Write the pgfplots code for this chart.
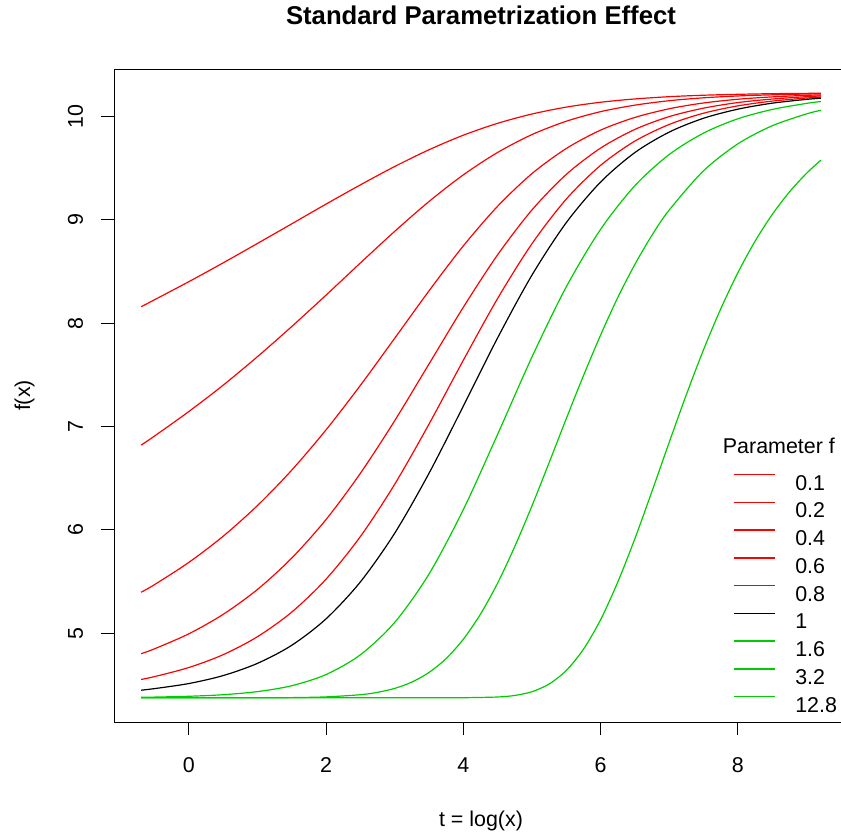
\documentclass[border=0pt]{standalone}
\usepackage{fontspec}
\setmainfont{Liberation Sans}
\usepackage{pgfplots}
\pgfplotsset{compat=1.18}
\usetikzlibrary{calc}
\definecolor{rred}{HTML}{FF0000}
\definecolor{rgreen}{HTML}{00CD00}
\begin{document}
\begin{tikzpicture}
\begin{axis}[
  scale only axis, width=734bp, height=653bp,
  xmin=-1.089, xmax=9.606, ymin=4.140, ymax=10.460,
  axis line style={line width=0.9bp},
  tick align=outside, major tick length=13bp,
  tick style={line width=0.9bp, black},
  xtick={0,2,4,6,8}, ytick={5,6,7,8,9,10},
  xtick pos=bottom, ytick pos=left,
  /pgf/number format/assume math mode=true,
  ticklabel style={font=\fontsize{21.5}{25}\selectfont},
  xticklabel style={anchor=base, yshift=-37bp},
  yticklabel style={anchor=base, rotate=90, yshift=18bp},
  xlabel={t = log(x)}, ylabel={f(x)},
  label style={font=\fontsize{21.5}{25}\selectfont},
  xlabel style={at={(0.5,-0.1593)}, anchor=base},
  ylabel style={at={(-0.1144,0.5)}, anchor=base, rotate=0},
  title={Standard Parametrization Effect},
  title style={font=\bfseries\fontsize{25.8}{30}\selectfont, at={(0.5,1.0597)}, anchor=base},
  every axis plot/.append style={line width=1.2bp, smooth},
  legend image code/.code={\draw[#1, line width=1.5bp] (0bp,7.7bp) -- (41bp,7.7bp);},
  legend cell align=left,
  legend style={draw=none, fill=none, inner sep=0pt, outer sep=0pt,
    at={(axis cs:7.927,6.541)}, anchor=north west,
    font=\fontsize{21.5}{25}\selectfont, row sep=11.6bp, column sep=20bp,
    nodes={inner sep=0pt, text height=15.4bp, text depth=0pt}},
]
\addplot[rred] coordinates {(-0.693,8.159) (-0.5,8.226) (0,8.401) (0.5,8.583) (1,8.771) (1.5,8.961) (2,9.152) (2.5,9.338) (3,9.516) (3.5,9.678) (4,9.819) (4.5,9.934) (5,10.024) (5.5,10.091) (6,10.138) (6.5,10.170) (7,10.192) (7.5,10.206) (8,10.215) (8.5,10.221) (9,10.224) (9.21,10.226)};
\addlegendentry{0.1}
\addplot[rred] coordinates {(-0.693,6.820) (-0.5,6.907) (0,7.144) (0.5,7.399) (1,7.675) (1.5,7.967) (2,8.271) (2.5,8.582) (3,8.888) (3.5,9.177) (4,9.435) (4.5,9.652) (5,9.825) (5.5,9.954) (6,10.047) (6.5,10.110) (7,10.153) (7.5,10.181) (8,10.199) (8.5,10.210) (9,10.218) (9.21,10.220)};
\addlegendentry{0.2}
\addplot[rred] coordinates {(-0.693,5.396) (-0.5,5.469) (0,5.684) (0.5,5.937) (1,6.234) (1.5,6.577) (2,6.967) (2.5,7.397) (3,7.853) (3.5,8.312) (4,8.747) (4.5,9.131) (5,9.447) (5.5,9.690) (6,9.868) (6.5,9.991) (7,10.075) (7.5,10.131) (8,10.167) (8.5,10.190) (9,10.205) (9.21,10.209)};
\addlegendentry{0.4}
\addplot[rred] coordinates {(-0.693,4.801) (-0.5,4.848) (0,4.993) (0.5,5.181) (1,5.422) (1.5,5.726) (2,6.099) (2.5,6.546) (3,7.055) (3.5,7.604) (4,8.153) (4.5,8.661) (5,9.095) (5.5,9.439) (6,9.694) (6.5,9.875) (7,9.999) (7.5,10.081) (8,10.135) (8.5,10.169) (9,10.192) (9.21,10.199)};
\addlegendentry{0.6}
\addplot[rred] coordinates {(-0.693,4.552) (-0.5,4.579) (0,4.667) (0.5,4.791) (1,4.965) (1.5,5.203) (2,5.522) (2.5,5.934) (3,6.440) (3.5,7.022) (4,7.640) (4.5,8.238) (5,8.768) (5.5,9.200) (6,9.527) (6.5,9.762) (7,9.923) (7.5,10.032) (8,10.103) (8.5,10.149) (9,10.179) (9.21,10.188)};
\addlegendentry{0.8}
\addplot[black] coordinates {(-0.693,4.448) (-0.5,4.463) (0,4.512) (0.5,4.589) (1,4.707) (1.5,4.882) (2,5.138) (2.5,5.495) (3,5.966) (3.5,6.546) (4,7.196) (4.5,7.857) (5,8.464) (5.5,8.972) (6,9.365) (6.5,9.651) (7,9.849) (7.5,9.983) (8,10.071) (8.5,10.129) (9,10.166) (9.21,10.177)};
\addlegendentry{1}
\addplot[rgreen] coordinates {(-0.693,4.379) (-0.5,4.381) (0,4.389) (0.5,4.404) (1,4.434) (1.5,4.491) (2,4.599) (2.5,4.790) (3,5.103) (3.5,5.571) (4,6.194) (4.5,6.923) (5,7.671) (5.5,8.350) (6,8.907) (6.5,9.330) (7,9.632) (7.5,9.839) (8,9.978) (8.5,10.068) (9,10.127) (9.21,10.145)};
\addlegendentry{1.6}
\addplot[rgreen] coordinates {(-0.693,4.374) (0,4.374) (0.5,4.374) (1,4.375) (1.5,4.376) (2,4.383) (2.5,4.404) (2.75,4.427) (3,4.465) (3.25,4.526) (3.5,4.619) (3.75,4.754) (4,4.940) (4.25,5.183) (4.5,5.483) (4.75,5.837) (5,6.230) (5.25,6.648) (5.5,7.074) (5.75,7.489) (6,7.883) (6.25,8.246) (6.5,8.568) (6.75,8.851) (7,9.094) (7.5,9.474) (8,9.735) (8.5,9.910) (9,10.025) (9.21,10.060)};
\addlegendentry{3.2}
\addplot[rgreen] coordinates {(-0.693,4.374) (1,4.374) (2,4.374) (3,4.374) (3.5,4.374) (4,4.375) (4.5,4.382) (4.75,4.397) (5,4.433) (5.25,4.507) (5.5,4.638) (5.75,4.843) (6,5.128) (6.25,5.492) (6.5,5.913) (6.75,6.373) (7,6.845) (7.25,7.307) (7.5,7.741) (7.75,8.136) (8,8.486) (8.25,8.791) (8.5,9.050) (8.75,9.268) (9,9.449) (9.21,9.577)};
\addlegendentry{12.8}
\node[anchor=base west, font=\fontsize{21.5}{25}\selectfont, inner sep=0pt] at (axis cs:7.781,6.738) {Parameter f};
\end{axis}
\pgfresetboundingbox
\path[use as bounding box] ($(current axis.south west)+(-114bp,-111bp)$) rectangle ($(current axis.south west)+(727bp,722bp)$);
\end{tikzpicture}
\end{document}
